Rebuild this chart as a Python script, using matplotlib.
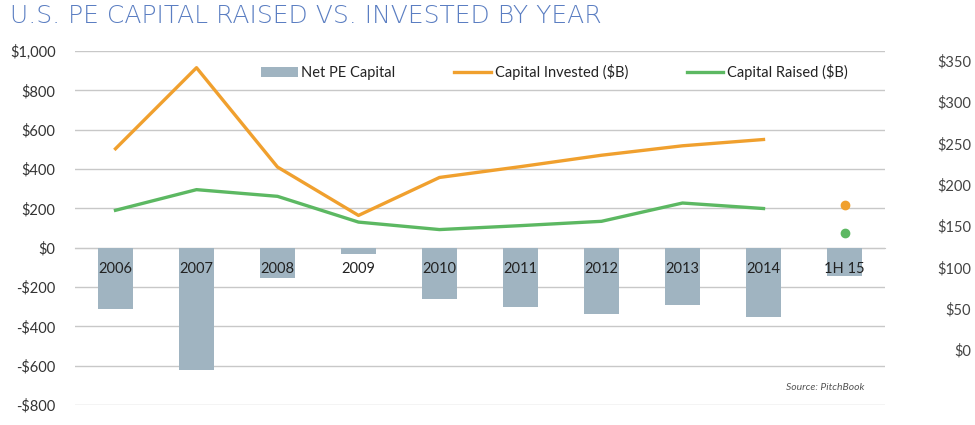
import matplotlib
matplotlib.use("Agg")
from matplotlib import pyplot as plt
from matplotlib.ticker import FuncFormatter

# values ($B)
years = ["2006", "2007", "2008", "2009", "2010", "2011", "2012", "2013", "2014", "1H 15"]
invested = [503, 915, 410, 164, 357, 412, 470, 518, 550]
raised = [190, 295, 261, 130, 92, 112, 134, 227, 199]
invested_1h15 = 215
raised_1h15 = 74
net_capital = [-310, -620, -152, -34, -263, -300, -336, -290, -351, -143]

left_ticks = list(range(-800, 1001, 200))
right_ticks = list(range(0, 351, 50))

BAR = "#a0b4c1"
ORANGE = "#f0a02e"
GREEN = "#5cb862"
GRID = "#c8c8c8"
TXT = "#333333"

plt.rcParams["font.family"] = ["Lato", "DejaVu Sans"]

fig = plt.figure(figsize=(9.75, 4.25), dpi=100)
ax = fig.add_axes([75 / 975, 20 / 425, 810 / 975, 354 / 425])

x = list(range(len(years)))
bars = ax.bar(x, net_capital, width=0.42, color=BAR, label="Net PE Capital", zorder=2)
l1, = ax.plot(x[:-1], invested, color=ORANGE, lw=2.4, label="Capital Invested ($B)", zorder=3)
l2, = ax.plot(x[:-1], raised, color=GREEN, lw=2.4, label="Capital Raised ($B)", zorder=3)
ax.plot([x[-1]], [invested_1h15], "o", color=ORANGE, ms=6, zorder=3)
ax.plot([x[-1]], [raised_1h15], "o", color=GREEN, ms=6, zorder=3)

ax.set_xlim(-0.5, len(years) - 0.5)
ax.set_ylim(-800, 1000)
ax.set_yticks(left_ticks)
ax.yaxis.set_major_formatter(FuncFormatter(
    lambda v, p: ("-$" if v < 0 else "$") + f"{abs(int(v)):,}"))
ax.grid(axis="y", color=GRID, lw=1)
ax.yaxis.set_zorder(0.5)
ax.xaxis.set_zorder(5)
for s in ["top", "right", "left"]:
    ax.spines[s].set_visible(False)
ax.spines["bottom"].set_position(("data", 0))
ax.spines["bottom"].set_color(GRID)
ax.spines["bottom"].set_zorder(1)
ax.set_xticks(x)
ax.set_xticklabels(years)
ax.tick_params(axis="x", length=0, pad=10, labelsize=10.5, labelcolor="#222222")
ax.tick_params(axis="y", length=0, pad=14, labelsize=10.5, labelcolor=TXT)

# right-hand axis (labels only)
ax2 = ax.twinx()
ax2.set_ylim(-66.5, 361.7)
ax2.set_yticks(right_ticks)
ax2.yaxis.set_major_formatter(FuncFormatter(lambda v, p: f"${int(v)}"))
ax2.tick_params(axis="y", length=0, pad=62, labelsize=10.5, labelcolor="#444444")
for lab in ax2.get_yticklabels():
    lab.set_horizontalalignment("right")
for s in ax2.spines.values():
    s.set_visible(False)

ax2.legend([bars, l1, l2], [bars.get_label(), l1.get_label(), l2.get_label()],
           loc="upper center", bbox_to_anchor=(0.592, 1.0), ncol=3, frameon=False,
           fontsize=10.5, handlelength=2.5, handletextpad=0.25, columnspacing=4.05,
           labelcolor="#222222")

ax.text(0.975, 0.05, "Source: PitchBook", transform=ax.transAxes, ha="right",
        va="center", fontsize=7.5, style="italic", color="#555555")

fig.text(10 / 975, 1 - 16 / 425, "U.S. PE CAPITAL RAISED VS. INVESTED BY YEAR",
         ha="left", va="center", fontsize=18, color="#5b7ec2",
         family=["DejaVu Sans"], fontweight="light")

fig.savefig("out.png", dpi=100)
